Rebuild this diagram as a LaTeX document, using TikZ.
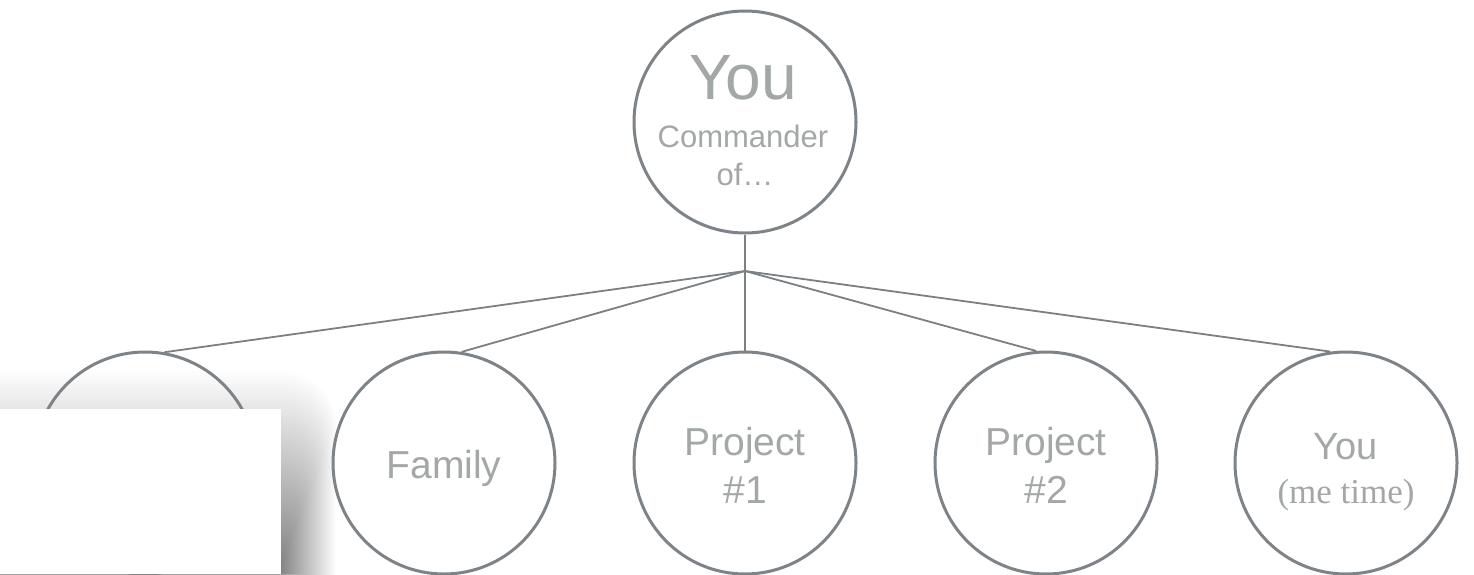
\documentclass[tikz,border=0pt]{standalone}
\usepackage{fontspec}
\setmainfont{Liberation Sans}
\newfontfamily\serifdisp{Liberation Serif}
\begin{document}
\begin{tikzpicture}[x=1pt,y=-1pt,
  ring/.style={circle,draw=ringgray,line width=3pt,minimum size=222pt,inner sep=0pt},
  lbl/.style={anchor=base,inner sep=0pt,text=txtgray,font=\fontsize{39}{48}\selectfont},
  link/.style={draw=linkgray,line width=1.8pt}]
\definecolor{ringgray}{HTML}{7E8388}
\definecolor{linkgray}{HTML}{7B8085}
\definecolor{txtgray}{HTML}{A3A8A6}
\useasboundingbox[fill=white] (0,0) rectangle (1474,574);
% blurred shadow of the white box
\foreach \k in {0,...,59}{
  \fill[black,fill opacity=0.0077,rounded corners=0.9*\k+1]
    (-100-0.9*\k,560-3.2*\k) rectangle (283+0.9*\k,700);
}
% circles
\node[ring] (top) at (745,122) {};
\node[ring] (c1) at (145,463) {};
\node[ring] (c2) at (444,463) {};
\node[ring] (c3) at (745,463) {};
\node[ring] (c4) at (1046,463) {};
\node[ring] (c5) at (1346,463) {};
% texts
\node[lbl,font=\fontsize{64}{64}\selectfont] (t1) at (743,99) {You};
\node[lbl,font=\fontsize{31}{38}\selectfont] (t2) at (743,147) {Commander};
\node[lbl,font=\fontsize{31}{38}\selectfont] (t3) at (745,185) {of\ldots};
\node[lbl] (f1) at (444,478) {Family};
\node[lbl] (p1a) at (745,455) {Project};
\node[lbl] (p1b) at (745,503) {\#1};
\node[lbl] (p2a) at (1046,455) {Project};
\node[lbl] (p2b) at (1046,503) {\#2};
\node[lbl,font=\fontsize{38}{46}\selectfont] (y1) at (1346,459) {You};
\node[lbl,font=\serifdisp\fontsize{35}{40}\selectfont] (y2) at (1346,503) {(me time)};
% connectors
\coordinate (j) at (745,271);
\path[link] (top.south) -- (j);
\path[link] (j) -- (c1.80);
\path[link] (j) -- (c2.81);
\path[link] (j) -- (c3.north);
\path[link] (j) -- (c4.95);
\path[link] (j) -- (c5.98);
% white box covering the first circle
\fill[white] (0,409) rectangle (281,574);
\end{tikzpicture}
\end{document}
